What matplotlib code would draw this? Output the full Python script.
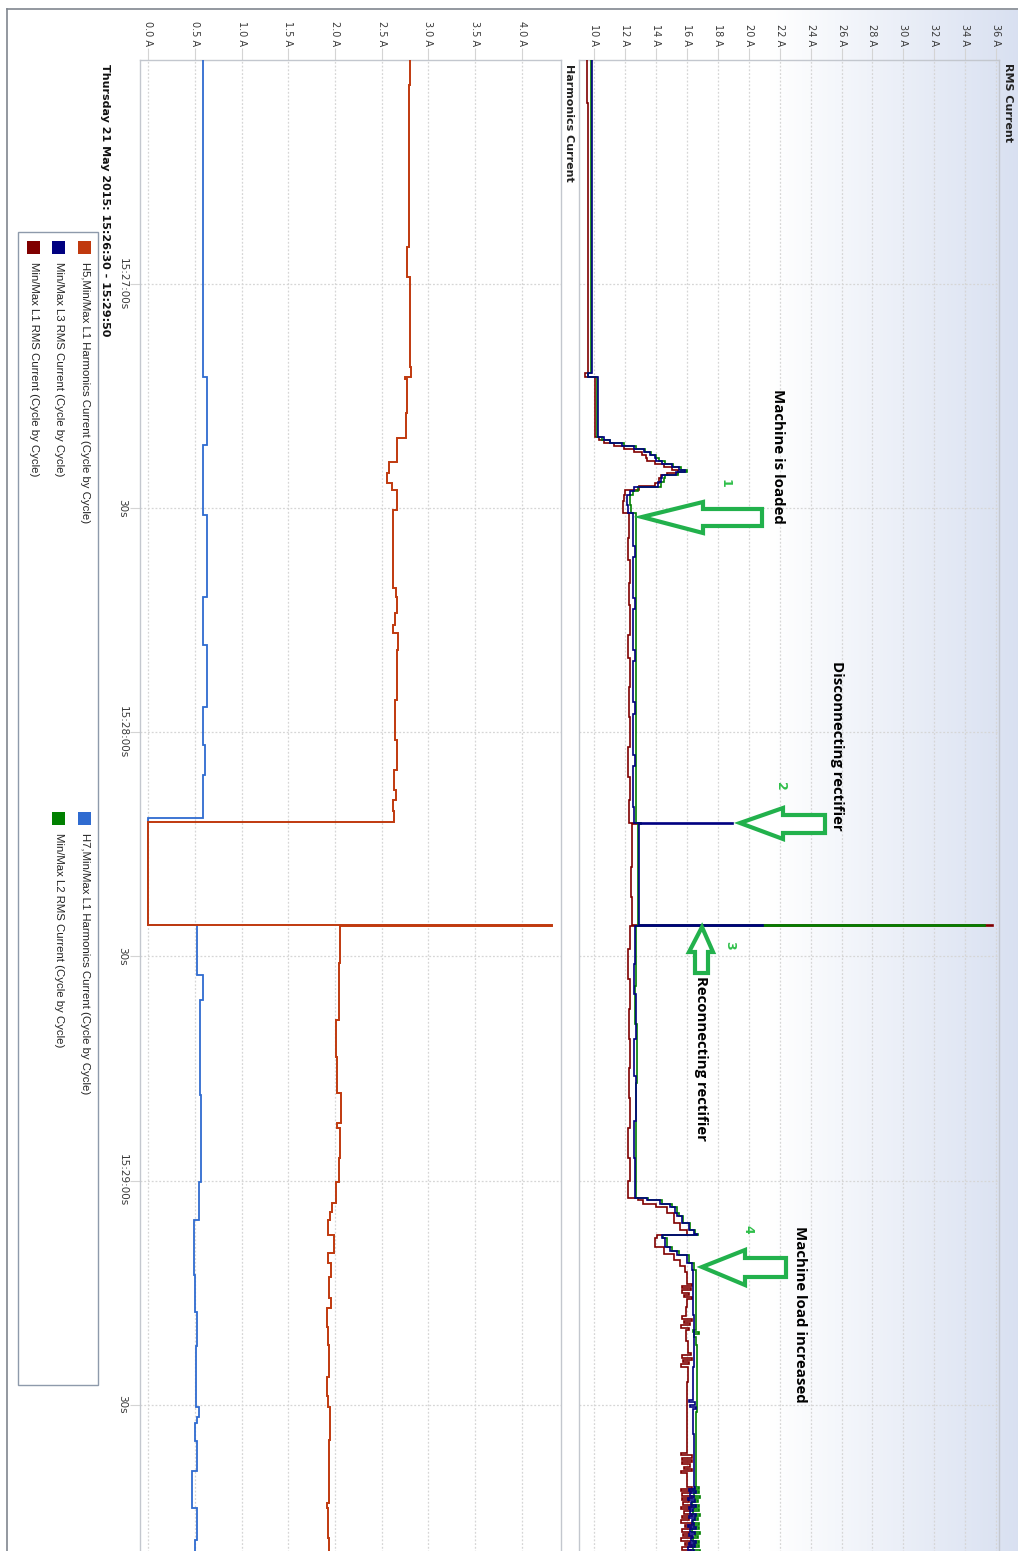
import numpy as np
import matplotlib
matplotlib.use("Agg")
import matplotlib.pyplot as plt
from matplotlib.patches import Polygon, Rectangle
from matplotlib.lines import Line2D

plt.rcParams['font.family'] = ['DejaVu Sans']

# ------------------------------------------------------------------
# Data: time in seconds after 15:26:30, currents in ampere
# ------------------------------------------------------------------
T_END = 200.0
TIME_TICKS = [30, 60, 90, 120, 150, 180]
TIME_LABELS = ["15:27:00s", "30s", "15:28:00s", "30s", "15:29:00s", "30s"]

HARM_TICKS = [0.0, 0.5, 1.0, 1.5, 2.0, 2.5, 3.0, 3.5, 4.0]
HARM_TICK_LABELS = ["0.0 A", "0.5 A", "1.0 A", "1.5 A", "2.0 A", "2.5 A", "3.0 A", "3.5 A", "4.0 A"]
RMS_TICKS = [10, 12, 14, 16, 18, 20, 22, 24, 26, 28, 30, 32, 34, 36]
RMS_TICK_LABELS = ["10 A", "12 A", "14 A", "16 A", "18 A", "20 A", "22 A", "24 A",
                   "26 A", "28 A", "30 A", "32 A", "34 A", "36 A"]

# 5th harmonic, L1
H5_T = [0.0, 3.4, 25.0, 29.1, 33.9, 41.1, 42.4, 42.7, 47.3, 50.6,
        53.8, 55.3, 56.6, 57.6, 60.2, 70.7, 71.9, 74.0, 75.6, 76.7,
        79.0, 85.7, 91.0, 95.0, 97.7, 99.1, 100.5, 102.0, 115.8, 115.95,
        120.9, 128.5, 133.5, 138.3, 142.3, 143.0, 147.0, 150.2, 153.0, 154.2,
        155.3, 157.3, 159.7, 161.0, 162.9, 165.7, 167.1, 169.6, 172.0, 176.3,
        178.9, 180.3, 184.7, 193.2, 193.9, 197.9]
H5_A = [2.81, 2.79, 2.775, 2.80, 2.81, 2.82, 2.75, 2.775, 2.76, 2.66,
        2.575, 2.555, 2.61, 2.66, 2.625, 2.65, 2.665, 2.645, 2.625, 2.68,
        2.66, 2.64, 2.66, 2.63, 2.65, 2.62, 2.63, 0.0, 4.33, 2.05,
        2.04, 2.01, 2.02, 2.06, 2.02, 2.05, 2.04, 2.01, 1.97, 1.95,
        1.93, 1.99, 1.93, 1.96, 1.94, 1.96, 1.91, 1.93, 1.94, 1.91,
        1.93, 1.95, 1.94, 1.91, 1.93, 1.94]

# 7th harmonic, L1
H7_T = [0.0, 42.4, 51.5, 60.9, 71.9, 78.3, 86.6, 91.7, 95.7, 101.5,
        115.8, 122.5, 125.8, 138.5, 150.2, 155.3, 162.6, 167.6, 172.2, 180.3,
        181.6, 182.4, 184.9, 188.9, 193.9, 198.1]
H7_A = [0.585, 0.63, 0.585, 0.63, 0.585, 0.63, 0.585, 0.61, 0.585, 0.0,
        0.52, 0.585, 0.555, 0.565, 0.54, 0.49, 0.50, 0.52, 0.51, 0.54,
        0.52, 0.50, 0.52, 0.47, 0.52, 0.50]

# RMS current, phase L1
L1_T = [0.0, 5.8, 41.9, 42.4,
        50.5, 50.9, 51.3, 51.7, 52.1, 52.5, 52.9, 53.3,
        53.7, 54.1, 54.5, 54.9, 55.3, 55.6, 56.0, 56.6,
        57.0, 57.6, 58.2, 59.0, 60.6,
        64.0, 67.0, 70.0, 73.0, 77.0, 80.0, 84.0, 88.0, 92.0, 96.0, 99.0,
        102.1, 102.25, 108.0, 112.0,
        115.8, 115.95,
        119.0, 123.0, 127.0, 131.0, 135.0, 139.0, 143.0, 147.0, 150.0,
        152.4, 152.6, 153.1, 153.5, 154.4, 155.7, 156.6, 157.3,
        157.7, 158.9, 159.8, 160.6, 161.4, 162.2,
        167.0, 171.5, 177.0, 183.0]
L1_A = [9.52, 9.62, 9.40, 10.05,
        10.3, 10.6, 11.3, 11.9, 12.6, 13.1, 13.35, 13.4,
        13.9, 14.5, 15.0, 15.4, 14.7, 14.3, 14.2, 13.9,
        12.9, 12.0, 11.9, 11.85, 12.26,
        12.2, 12.32, 12.22, 12.3, 12.2, 12.3, 12.22, 12.32, 12.2, 12.3, 12.22,
        12.9, 12.45, 12.4, 12.45,
        35.8, 12.3,
        12.2, 12.3, 12.22, 12.32, 12.22, 12.3, 12.2, 12.28, 12.21,
        12.8, 13.16, 14.0, 14.7, 15.13, 15.56, 16.0, 14.05,
        13.94, 14.48, 15.13, 15.56, 15.89, 16.0,
        15.95, 16.05, 15.97, 16.02]

# RMS current, phase L2
L2_T = [0.0, 41.9, 42.4,
        50.5, 50.9, 51.3, 51.7, 52.1, 52.5, 52.9, 53.3,
        53.7, 54.1, 54.5, 54.9, 55.15, 55.6, 56.0, 56.5,
        57.2, 57.7, 58.2, 59.6, 60.6,
        102.1, 102.25,
        115.8, 115.95,
        124.0, 129.0, 137.0, 144.0,
        152.4, 152.6, 153.1, 153.5, 154.4, 154.8, 155.7, 156.6,
        157.1, 157.3, 157.7, 158.9, 159.5, 160.0, 161.1, 162.0,
        172.0, 181.0]
L2_A = [9.78, 9.62, 10.2,
        10.5, 11.0, 11.9, 12.7, 13.3, 13.7, 14.0, 14.2,
        14.6, 15.1, 15.6, 16.0, 15.4, 14.6, 14.5, 14.3,
        12.8, 12.5, 12.3, 12.4, 12.72,
        13.0, 12.85,
        35.3, 12.72,
        12.66, 12.75, 12.68, 12.72,
        13.5, 14.36, 15.0, 15.34, 15.45, 15.77, 16.2, 16.52,
        16.74, 14.47, 14.69, 15.0, 15.45, 16.1, 16.42, 16.6,
        16.65, 16.58]

# RMS current, phase L3
L3_T = [0.0, 41.9, 42.4,
        50.5, 50.9, 51.3, 51.7, 52.1, 52.5, 52.9, 53.3,
        53.7, 54.1, 54.5, 54.9, 55.15, 55.6, 56.0, 56.5,
        57.2, 57.7, 58.2, 59.6, 60.6,
        65.0, 66.5, 72.0, 73.5, 79.0, 80.5, 86.0, 87.5, 93.0, 94.5, 100.0,
        102.1, 102.25,
        115.8, 115.95,
        121.0, 125.0, 131.0, 136.0, 142.0, 147.0,
        152.4, 152.6, 153.1, 153.5, 154.4, 154.8, 155.7, 156.6,
        157.1, 157.3, 157.7, 158.9, 159.5, 160.0, 161.1, 162.0,
        168.0, 175.0, 184.0]
L3_A = [9.82, 9.60, 10.22,
        10.6, 11.0, 11.8, 12.6, 13.2, 13.6, 13.9, 14.0,
        14.4, 15.0, 15.5, 15.9, 15.3, 14.4, 14.3, 14.1,
        12.6, 12.3, 12.1, 12.2, 12.5,
        12.62, 12.5, 12.62, 12.5, 12.62, 12.5, 12.62, 12.5, 12.62, 12.5, 12.6,
        19.0, 12.9,
        20.9, 12.65,
        12.55, 12.68, 12.58, 12.7, 12.6, 12.66,
        13.4, 14.26, 14.9, 15.24, 15.35, 15.67, 16.1, 16.42,
        16.64, 14.37, 14.59, 14.9, 15.35, 16.0, 16.32, 16.39,
        16.45, 16.36, 16.42]

# Fast cycle-by-cycle fluctuations (one value every BURST_DT seconds)
BURST_DT = 0.3
L1_BURST_START = [163.8, 168.2, 173.1, 186.5, 191.0]
L1_BURST_VALUES = [
    [16.3, 15.7, 16.25, 15.65, 16.1, 15.8, 16.35],
    [15.7, 16.3, 15.8, 16.2, 15.6, 16.15],
    [16.25, 15.7, 16.3, 15.75, 16.1, 15.6],
    [15.6, 16.3, 15.7, 16.35, 15.65, 16.2, 15.8, 16.3, 15.6],
    [16.3, 15.6, 16.25, 15.7, 16.35, 15.65, 16.1, 15.75, 16.3, 15.6, 16.2, 15.8, 16.35, 15.7,
     16.15, 15.6, 16.3, 15.9, 16.25, 15.65, 16.1, 15.75, 16.35, 15.6, 16.2, 15.85, 16.3, 15.7,
     16.25, 15.6],
]
L2_BURST_START = [170.0, 191.0]
L2_BURST_VALUES = [
    [16.4, 16.8, 16.45],
    [16.8, 16.4, 16.75, 16.45, 16.85, 16.5, 16.7, 16.35, 16.8, 16.45, 16.75, 16.4, 16.85, 16.5,
     16.7, 16.4, 16.8, 16.45, 16.75, 16.35, 16.85, 16.5, 16.7, 16.4, 16.8, 16.45, 16.75, 16.4,
     16.85, 16.5],
]
L3_BURST_START = [179.4, 191.0]
L3_BURST_VALUES = [
    [16.1, 16.5, 16.2, 16.55],
    [16.5, 16.1, 16.55, 16.2, 16.45, 16.05, 16.5, 16.25, 16.55, 16.1, 16.4, 16.2, 16.55, 16.1,
     16.5, 16.3, 16.45, 16.05, 16.55, 16.2, 16.5, 16.1, 16.4, 16.25, 16.55, 16.15, 16.5, 16.05,
     16.45, 16.2],
]

LEGEND_LABELS = ["H5,Min/Max L1 Harmonics Current (Cycle by Cycle)",
                 "Min/Max L3 RMS Current (Cycle by Cycle)",
                 "Min/Max L1 RMS Current (Cycle by Cycle)",
                 "H7,Min/Max L1 Harmonics Current (Cycle by Cycle)",
                 "Min/Max L2 RMS Current (Cycle by Cycle)"]

# ------------------------------------------------------------------
# Styling
# ------------------------------------------------------------------
C_H5 = '#c0390e'
C_H7 = '#2f6bd0'
C_L1 = '#800000'
C_L2 = '#008000'
C_L3 = '#000080'
GREEN = '#22b14c'
GRID = '#d6d6d6'
SPINE = '#c3c7ce'
TICKTXT = '#3a3a3a'

W, H, DPI = 1018, 1551, 100
fig = plt.figure(figsize=(W / DPI, H / DPI), dpi=DPI)
fig.patch.set_facecolor('white')


def fp(x, y):
    """pixel position (from top-left) -> figure fraction"""
    return x / W, 1 - y / H


def axes_px(x0, y0, x1, y1, **kw):
    return fig.add_axes([x0 / W, 1 - y1 / H, (x1 - x0) / W, (y1 - y0) / H], **kw)


def with_bursts(ts, vs, starts, bursts):
    ts = np.asarray(ts, float)
    vs = np.asarray(vs, float)
    pts = list(zip(ts, vs))
    for start, vals in zip(starts, bursts):
        end = start + len(vals) * BURST_DT
        resume = vs[np.searchsorted(ts, end, side='right') - 1]
        pts = [p for p in pts if not (start <= p[0] < end)]
        pts += [(start + i * BURST_DT, v) for i, v in enumerate(vals)]
        pts.append((end, resume))
    pts.sort()
    t = np.array([p[0] for p in pts])
    v = np.array([p[1] for p in pts])
    return t, v


def step_trace(ax, ts, vs, color, lw=1.3, z=3):
    t = np.append(np.asarray(ts, float), T_END)
    v = np.append(np.asarray(vs, float), vs[-1])
    ax.plot(v, t, drawstyle='steps-pre', color=color, lw=lw, zorder=z,
            solid_joinstyle='miter')


# background shading of the RMS panel
g_ax = axes_px(580, 10, W, H)
g_ax.set_axis_off()
xs = np.linspace(580, W, 400)
frac = np.clip((xs - 770) / (W - 770), 0, 1)
end_rgb = np.array([0.85, 0.88, 0.945])
img = 1 - frac[:, None] * (1 - end_rgb[None, :])
g_ax.imshow(img[None, :, :], aspect='auto', extent=[0, 1, 0, 1])
g_ax.set_xlim(0, 1)
g_ax.set_ylim(0, 1)

# panels
ax_h = axes_px(140, 60, 561, 1554)
ax_r = axes_px(579, 60, 999, 1554)
ax_r.set_facecolor('none')

ax_h.set_xlim(-0.089, 4.423)
ax_r.set_xlim(9.01, 36.19)
for ax in (ax_h, ax_r):
    ax.set_ylim(T_END, 0)
    for s in ax.spines.values():
        s.set_color(SPINE)
        s.set_linewidth(1.0)
    ax.set_axisbelow(True)
    ax.grid(True, color=GRID, linestyle=(0, (1.5, 1.5)), linewidth=0.9)
    ax.xaxis.tick_top()
    ax.tick_params(axis='x', direction='out', length=9, width=0.8, color='#d4d4d4',
                   labelsize=7, labelcolor=TICKTXT, pad=1, labelrotation=-90)

ax_h.set_xticks(HARM_TICKS, HARM_TICK_LABELS)
ax_r.set_xticks(RMS_TICKS, RMS_TICK_LABELS)

ax_h.set_yticks(TIME_TICKS, TIME_LABELS)
ax_h.tick_params(axis='y', direction='out', length=7, width=0.8, color='#d4d4d4',
                 labelsize=7.5, labelcolor=TICKTXT, pad=2)
for lbl in ax_h.get_yticklabels():
    lbl.set_rotation(-90)
    lbl.set_va('center')
ax_r.set_yticks(TIME_TICKS)
ax_r.tick_params(axis='y', left=False, labelleft=False)

# harmonic traces
step_trace(ax_h, H7_T, H7_A, C_H7, lw=1.3, z=3)
step_trace(ax_h, H5_T, H5_A, C_H5, lw=1.4, z=4)

# RMS traces
t1, v1 = with_bursts(L1_T, L1_A, L1_BURST_START, L1_BURST_VALUES)
t2, v2 = with_bursts(L2_T, L2_A, L2_BURST_START, L2_BURST_VALUES)
t3, v3 = with_bursts(L3_T, L3_A, L3_BURST_START, L3_BURST_VALUES)
step_trace(ax_r, t1, v1, C_L1, lw=1.2, z=3)
step_trace(ax_r, t2, v2, C_L2, lw=1.2, z=4)
step_trace(ax_r, t3, v3, C_L3, lw=1.2, z=5)

# outer frame
fig.add_artist(Line2D([fp(7, 9)[0], fp(W, 9)[0]], [fp(7, 9)[1], fp(W, 9)[1]],
                      transform=fig.transFigure, color='#80868f', lw=1.2))
fig.add_artist(Line2D([fp(7, 9)[0], fp(7, H)[0]], [fp(7, 9)[1], fp(7, H)[1]],
                      transform=fig.transFigure, color='#80868f', lw=1.2))

# panel titles
def vtext(x, y, s, **kw):
    fig.text(*fp(x, y), s, rotation=-90, ha='center', va='top', **kw)

vtext(569, 64, "Harmonics Current", fontsize=8, fontweight='bold', color='#222222')
vtext(1008, 63, "RMS Current", fontsize=8, fontweight='bold', color='#222222')
vtext(105, 64, "Thursday 21 May 2015: 15:26:30 - 15:29:50", fontsize=8,
      fontweight='bold', color='#111111')

# legend
fig.add_artist(Rectangle(fp(18, 1385), 80 / W, (1385 - 232) / H, transform=fig.transFigure,
                         fc='white', ec='#8e9aab', lw=1.0, zorder=2))
leg_cols = [C_H5, C_L3, C_L1, C_H7, C_L2]
leg_x = [84.5, 58.5, 33.5, 84.5, 58.5]
leg_y = [241, 241, 241, 812, 812]
for lab, col, lx, ly in zip(LEGEND_LABELS, leg_cols, leg_x, leg_y):
    fig.add_artist(Rectangle(fp(lx - 6.5, ly + 13), 13 / W, 13 / H, transform=fig.transFigure,
                             fc=col, ec='none', zorder=3))
    fig.text(*fp(lx, ly + 21), lab, rotation=-90, ha='center', va='top',
             fontsize=8.2, family=['Liberation Sans'], color='#222222', zorder=3)

# annotations
def outline(points):
    fig.add_artist(Polygon([fp(*p) for p in points], closed=True, transform=fig.transFigure,
                           fc='white', ec=GREEN, lw=3.0, joinstyle='miter', zorder=10))

outline([(642, 517), (703, 502), (703, 509), (762, 509), (762, 526), (703, 526), (703, 533)])
outline([(740, 823), (783, 808), (783, 815), (825, 815), (825, 833), (783, 833), (783, 839)])
outline([(702, 927), (713, 952), (708, 952), (708, 973), (695, 973), (695, 952), (689, 952)])
outline([(702, 1267), (745, 1250), (745, 1258), (786, 1258), (786, 1277), (745, 1277), (745, 1285)])

ann = dict(fontsize=10.8, fontweight='bold', family=['Open Sans', 'DejaVu Sans'],
           color='black', zorder=11)
vtext(778, 389, "Machine is loaded", **ann)
vtext(837, 661, "Disconnecting rectifier", **ann)
vtext(701, 976, "Reconnecting rectifier", **ann)
vtext(800, 1226, "Machine load increased", **ann)

num = dict(fontsize=9, fontweight='bold', color='#2fbf4a', zorder=11)
vtext(725, 479, "1", **num)
vtext(780, 782, "2", **num)
vtext(730, 941, "3", **num)
vtext(748, 1225, "4", **num)

fig.savefig("out.png", dpi=DPI, facecolor='white')
